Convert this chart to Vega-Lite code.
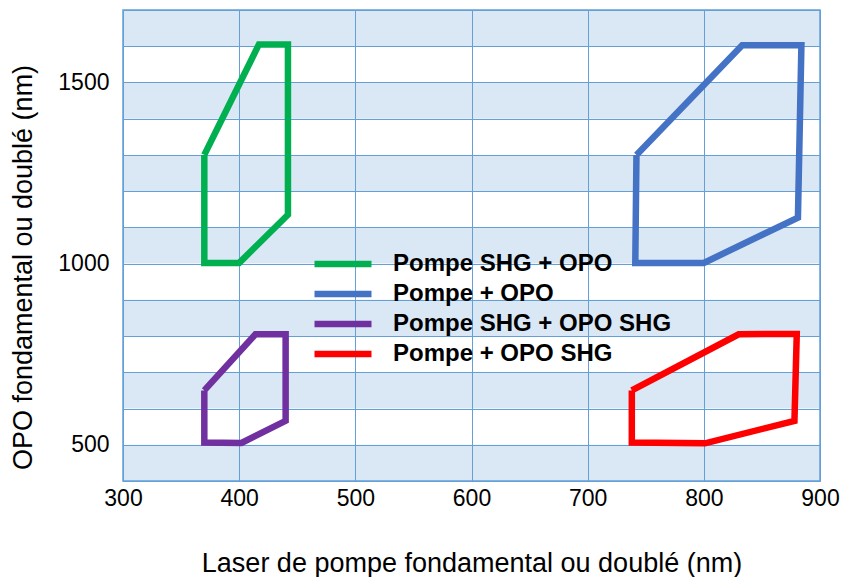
{
  "$schema": "https://vega.github.io/schema/vega-lite/v6.json",
  "width": 697,
  "height": 471,
  "autosize": {"type": "none"},
  "padding": {"left": 123, "top": 10, "right": 23, "bottom": 96},
  "background": "white",
  "config": {
    "font": "Liberation Sans",
    "view": {"stroke": "#64a0d7", "strokeWidth": 1.5},
    "axis": {"labelOverlap": false, "labelFlush": false}
  },
  "datasets": {
    "bands": [
      {"y0": 400, "y1": 500},
      {"y0": 600, "y1": 700},
      {"y0": 800, "y1": 900},
      {"y0": 1000, "y1": 1100},
      {"y0": 1200, "y1": 1300},
      {"y0": 1400, "y1": 1500},
      {"y0": 1600, "y1": 1700}
    ],
    "zones": [
      {"serie": "Pompe SHG + OPO", "i": 0, "pompe": 370, "opo": 1300},
      {"serie": "Pompe SHG + OPO", "i": 1, "pompe": 417, "opo": 1605},
      {"serie": "Pompe SHG + OPO", "i": 2, "pompe": 442, "opo": 1605},
      {"serie": "Pompe SHG + OPO", "i": 3, "pompe": 442, "opo": 1135},
      {"serie": "Pompe SHG + OPO", "i": 4, "pompe": 400, "opo": 1002},
      {"serie": "Pompe SHG + OPO", "i": 5, "pompe": 370, "opo": 1002},
      {"serie": "Pompe SHG + OPO", "i": 6, "pompe": 370, "opo": 1300},
      {"serie": "Pompe + OPO", "i": 0, "pompe": 742, "opo": 1300},
      {"serie": "Pompe + OPO", "i": 1, "pompe": 833, "opo": 1603},
      {"serie": "Pompe + OPO", "i": 2, "pompe": 884, "opo": 1603},
      {"serie": "Pompe + OPO", "i": 3, "pompe": 881, "opo": 1127},
      {"serie": "Pompe + OPO", "i": 4, "pompe": 800, "opo": 1002},
      {"serie": "Pompe + OPO", "i": 5, "pompe": 741, "opo": 1002},
      {"serie": "Pompe + OPO", "i": 6, "pompe": 742, "opo": 1300},
      {"serie": "Pompe SHG + OPO SHG", "i": 0, "pompe": 370, "opo": 650},
      {"serie": "Pompe SHG + OPO SHG", "i": 1, "pompe": 414, "opo": 805},
      {"serie": "Pompe SHG + OPO SHG", "i": 2, "pompe": 440, "opo": 805},
      {"serie": "Pompe SHG + OPO SHG", "i": 3, "pompe": 440, "opo": 566},
      {"serie": "Pompe SHG + OPO SHG", "i": 4, "pompe": 402, "opo": 505},
      {"serie": "Pompe SHG + OPO SHG", "i": 5, "pompe": 370, "opo": 506},
      {"serie": "Pompe SHG + OPO SHG", "i": 6, "pompe": 370, "opo": 650},
      {"serie": "Pompe + OPO SHG", "i": 0, "pompe": 738, "opo": 650},
      {"serie": "Pompe + OPO SHG", "i": 1, "pompe": 830, "opo": 805},
      {"serie": "Pompe + OPO SHG", "i": 2, "pompe": 880, "opo": 806},
      {"serie": "Pompe + OPO SHG", "i": 3, "pompe": 878, "opo": 566},
      {"serie": "Pompe + OPO SHG", "i": 4, "pompe": 801, "opo": 504},
      {"serie": "Pompe + OPO SHG", "i": 5, "pompe": 738, "opo": 506},
      {"serie": "Pompe + OPO SHG", "i": 6, "pompe": 738, "opo": 650}
    ]
  },
  "layer": [
    {
      "data": {"name": "bands"},
      "mark": {"type": "rect", "fill": "#64a0d7", "opacity": 0.24},
      "encoding": {
        "x": {
          "datum": 300,
          "type": "quantitative",
          "scale": {"domain": [300, 900], "nice": false, "zero": false},
          "axis": {
            "values": [300, 400, 500, 600, 700, 800, 900],
            "format": "d",
            "grid": true,
            "gridColor": "#64a0d7",
            "gridWidth": 1,
            "gridOpacity": 1,
            "domain": false,
            "ticks": false,
            "labelFlush": false,
            "labelOverlap": false,
            "labelFontSize": 23,
            "labelColor": "#000000",
            "labelPadding": 6,
            "title": "Laser de pompe fondamental ou doublé (nm)",
            "titleFontSize": 27,
            "titleFontWeight": "normal",
            "titleColor": "#000000",
            "titlePadding": 40
          }
        },
        "x2": {"datum": 900},
        "y": {
          "field": "y0",
          "type": "quantitative",
          "scale": {"domain": [400, 1700], "nice": false, "zero": false},
          "axis": {
            "values": [400, 500, 600, 700, 800, 900, 1000, 1100, 1200, 1300, 1400, 1500, 1600, 1700],
            "format": "d",
            "labelExpr": "(datum.value == 500 || datum.value == 1000 || datum.value == 1500) ? datum.label : ''",
            "labelOverlap": false,
            "labelFlush": false,
            "labelBound": false,
            "grid": true,
            "gridColor": "#64a0d7",
            "gridWidth": 1,
            "gridOpacity": 1,
            "domain": false,
            "ticks": false,
            "labelFontSize": 23,
            "labelColor": "#000000",
            "labelPadding": 14,
            "title": "OPO fondamental ou doublé (nm)",
            "titleFontSize": 27,
            "titleFontWeight": "normal",
            "titleColor": "#000000",
            "titlePadding": 20,
            "titleY": 257
          }
        },
        "y2": {"field": "y1"}
      }
    },
    {
      "data": {"name": "zones"},
      "mark": {"type": "line", "strokeWidth": 6.5, "strokeJoin": "miter", "clip": false},
      "encoding": {
        "x": {
          "field": "pompe",
          "type": "quantitative",
          "scale": {"domain": [300, 900], "nice": false, "zero": false},
          "axis": {
            "values": [300, 400, 500, 600, 700, 800, 900],
            "format": "d",
            "grid": true,
            "gridColor": "#64a0d7",
            "gridWidth": 1,
            "gridOpacity": 1,
            "domain": false,
            "ticks": false,
            "labelFlush": false,
            "labelOverlap": false,
            "labelFontSize": 23,
            "labelColor": "#000000",
            "labelPadding": 6,
            "title": "Laser de pompe fondamental ou doublé (nm)",
            "titleFontSize": 27,
            "titleFontWeight": "normal",
            "titleColor": "#000000",
            "titlePadding": 40
          }
        },
        "y": {
          "field": "opo",
          "type": "quantitative",
          "scale": {"domain": [400, 1700], "nice": false, "zero": false},
          "axis": {
            "values": [400, 500, 600, 700, 800, 900, 1000, 1100, 1200, 1300, 1400, 1500, 1600, 1700],
            "format": "d",
            "labelExpr": "(datum.value == 500 || datum.value == 1000 || datum.value == 1500) ? datum.label : ''",
            "labelOverlap": false,
            "labelFlush": false,
            "labelBound": false,
            "grid": true,
            "gridColor": "#64a0d7",
            "gridWidth": 1,
            "gridOpacity": 1,
            "domain": false,
            "ticks": false,
            "labelFontSize": 23,
            "labelColor": "#000000",
            "labelPadding": 14,
            "title": "OPO fondamental ou doublé (nm)",
            "titleFontSize": 27,
            "titleFontWeight": "normal",
            "titleColor": "#000000",
            "titlePadding": 20,
            "titleY": 257
          }
        },
        "color": {
          "field": "serie",
          "type": "nominal",
          "scale": {
            "domain": ["Pompe SHG + OPO", "Pompe + OPO", "Pompe SHG + OPO SHG", "Pompe + OPO SHG"],
            "range": ["#00b050", "#4472c4", "#7030a0", "#ff0000"]
          },
          "legend": {
            "orient": "none",
            "legendX": 208,
            "legendY": 242,
            "title": null,
            "symbolType": "M-4,0H4",
            "symbolSize": 203,
            "symbolStrokeWidth": 6.5,
            "labelFontSize": 24,
            "labelFontWeight": "bold",
            "labelColor": "#000000",
            "labelOffset": 38,
            "labelLimit": 0,
            "rowPadding": 4,
            "padding": 0
          }
        },
        "order": {"field": "i", "type": "quantitative"}
      }
    }
  ]
}
